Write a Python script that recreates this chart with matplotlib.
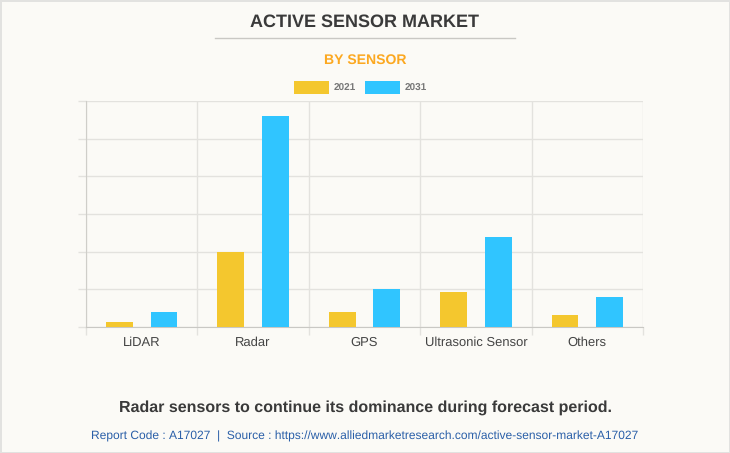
import matplotlib
matplotlib.use("Agg")
import matplotlib.pyplot as plt
import numpy as np

categories = ["LiDAR", "Radar", "GPS", "Ultrasonic Sensor", "Others"]
values_2021 = [0.14, 2.0, 0.41, 0.92, 0.33]
values_2031 = [0.41, 5.6, 1.0, 2.4, 0.79]

W, H = 730, 453
BG = "#fbfaf6"
GRID = "#e3e2de"

plt.rcParams["font.family"] = ["Liberation Sans", "DejaVu Sans"]
plt.rcParams["text.hinting"] = "no_hinting"
plt.rcParams["text.hinting_factor"] = 1

fig = plt.figure(figsize=(W / 100, H / 100), dpi=100, facecolor=BG)
fig.patch.set_edgecolor("#e2e2e0")
fig.patch.set_linewidth(2)
ax = fig.add_axes([86 / W, 1 - 327 / H, (643 - 86) / W, (327 - 101) / H], facecolor=BG)

x = np.arange(len(categories))
bw = 0.24
ax.bar(x - 0.2, values_2021, bw, color="#f4c72e", label="2021", zorder=3)
ax.bar(x + 0.2, values_2031, bw, color="#30c5ff", label="2031", zorder=3)

ax.set_xlim(-0.5, len(categories) - 0.5)
ax.set_ylim(0, 6)
ax.set_yticks(range(7))
ax.set_yticklabels([])
ax.set_xticks(x)
ax.set_xticklabels(categories, fontsize=9.05, color="#444444")
ax.set_xticks(np.arange(len(categories) + 1) - 0.5, minor=True)
ax.tick_params(axis="x", which="major", length=0, pad=7)
ax.tick_params(axis="x", which="minor", length=6, width=1, color=GRID)
ax.tick_params(axis="y", length=6, width=1, color=GRID)
ax.grid(True, which="major", axis="y", color=GRID, linewidth=1, zorder=0)
ax.grid(True, which="minor", axis="x", color=GRID, linewidth=1, zorder=0)
for side in ("top", "right"):
    ax.spines[side].set_visible(False)
ax.spines["left"].set_color("#cfcec9")
ax.spines["bottom"].set_color("#c9c8c4")

fig.legend(
    loc="center", bbox_to_anchor=(360.5 / W, 1 - 87.7 / H), ncol=2, frameon=False,
    handlelength=3.4, handleheight=1.5, labelcolor="#777777",
    handletextpad=0.5, columnspacing=0.8, prop={"weight": "bold", "size": 7.4},
)

fig.text(365 / W, 1 - 21.7 / H, "ACTIVE SENSOR MARKET", ha="center", va="center",
         fontsize=12.65, fontweight="bold", color="#3a3a3a")
fig.add_artist(plt.Line2D([215 / W, 515 / W], [1 - 37.5 / H] * 2, color="#c9c8c4", linewidth=1))
fig.text(365 / W, 1 - 60.3 / H, "BY SENSOR", ha="center", va="center",
         fontsize=10.1, fontweight="bold", color="#fca820")
fig.text(365 / W, 1 - 408 / H, "Radar sensors to continue its dominance during forecast period.",
         ha="center", va="center", fontsize=11.6, fontweight="bold", color="#3a3a3a")
fig.text(365 / W, 1 - 436.3 / H,
         "Report Code : A17027  |  Source : https://www.alliedmarketresearch.com/active-sensor-market-A17027",
         ha="center", va="center", fontsize=8.6, color="#2a5fa8")

fig.savefig("out.png", dpi=100, facecolor=BG, edgecolor="#e2e2e0")
